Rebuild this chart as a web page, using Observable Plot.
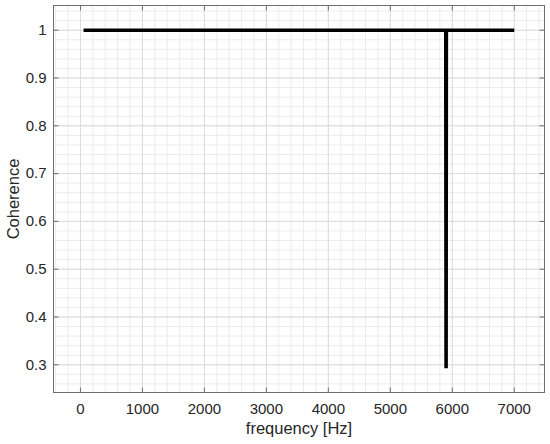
<!DOCTYPE html>
<html>
<head>
<meta charset="utf-8">
<script src="https://cdn.jsdelivr.net/npm/d3@7"></script>
<script src="https://cdn.jsdelivr.net/npm/@observablehq/plot@0.6"></script>
<style>
  html, body { margin: 0; padding: 0; background: #ffffff; }
  #chart svg { display: block; }
</style>
</head>
<body>
<div id="chart"></div>
<script>
// ---- data ----
const frequency = [50, 5895, 5900, 5904, 7000];
const coherence = [1, 1, 0.293, 1, 1];

const xTicks = [0, 1000, 2000, 3000, 4000, 5000, 6000, 7000];
const yTicks = [0.3, 0.4, 0.5, 0.6, 0.7, 0.8, 0.9, 1];
const xMinorTicks = d3.range(-400, 7401, 200);
const yMinorTicks = d3.range(26, 105, 2).map(v => v / 100);

const xDomain = [-435, 7488];
const yDomain = [0.242, 1.0517];

const xLabel = "frequency [Hz]";
const yLabel = "Coherence";

const data = frequency.map((f, i) => ({f, c: coherence[i]}));
const font = "Liberation Sans, Arial, Helvetica, sans-serif";
const textColor = "#262626";
const boxColor = "#6e6e6e";

// inward tick symbols (fixed pixel length)
const TL = 5;
const tickUp = {draw(ctx) { ctx.moveTo(0, 0); ctx.lineTo(0, -TL); }};
const tickDown = {draw(ctx) { ctx.moveTo(0, 0); ctx.lineTo(0, TL); }};
const tickRight = {draw(ctx) { ctx.moveTo(0, 0); ctx.lineTo(TL, 0); }};
const tickLeft = {draw(ctx) { ctx.moveTo(0, 0); ctx.lineTo(-TL, 0); }};

const chart = Plot.plot({
  width: 550,
  height: 444,
  marginLeft: 53,
  marginRight: 6,
  marginTop: 5,
  marginBottom: 52,
  style: {fontFamily: font, background: "#ffffff", color: textColor},
  x: {domain: xDomain, ticks: xTicks},
  y: {domain: yDomain, ticks: yTicks},
  marks: [
    // minor grid
    Plot.ruleX(xMinorTicks, {stroke: "#ececec", strokeWidth: 1}),
    Plot.ruleY(yMinorTicks, {stroke: "#ececec", strokeWidth: 1}),
    // major grid
    Plot.ruleX(xTicks, {stroke: "#dcdcdc", strokeWidth: 1}),
    Plot.ruleY(yTicks, {stroke: "#dcdcdc", strokeWidth: 1}),
    // axes labels only
    Plot.axisX(xTicks, {tickSize: 0, tickPadding: 11, fontSize: 15, fill: textColor, label: null, tickFormat: d => String(d)}),
    Plot.axisY(yTicks, {tickSize: 0, tickPadding: 7, fontSize: 15, fill: textColor, label: null, tickFormat: d => String(d)}),
    // inward ticks on all four sides
    Plot.dot(xTicks, {x: d => d, y: () => yDomain[0], symbol: tickUp, stroke: boxColor, fill: "none", strokeWidth: 1}),
    Plot.dot(xTicks, {x: d => d, y: () => yDomain[1], symbol: tickDown, stroke: boxColor, fill: "none", strokeWidth: 1}),
    Plot.dot(yTicks, {y: d => d, x: () => xDomain[0], symbol: tickRight, stroke: boxColor, fill: "none", strokeWidth: 1}),
    Plot.dot(yTicks, {y: d => d, x: () => xDomain[1], symbol: tickLeft, stroke: boxColor, fill: "none", strokeWidth: 1}),
    // data line
    Plot.line(data, {x: "f", y: "c", stroke: "#000000", strokeWidth: 3.6, strokeLinecap: "butt", strokeLinejoin: "miter"}),
    // frame
    Plot.frame({stroke: boxColor, strokeWidth: 1}),
    // axis titles
    Plot.text([xLabel], {frameAnchor: "bottom", dy: 36, lineAnchor: "middle", textAnchor: "middle", text: d => d, fontSize: 16.5, fill: textColor}),
    Plot.text([yLabel], {frameAnchor: "left", dx: -40, rotate: -90, lineAnchor: "middle", textAnchor: "middle", text: d => d, fontSize: 16.5, fill: textColor})
  ]
});

document.getElementById("chart").appendChild(chart);
</script>
</body>
</html>
